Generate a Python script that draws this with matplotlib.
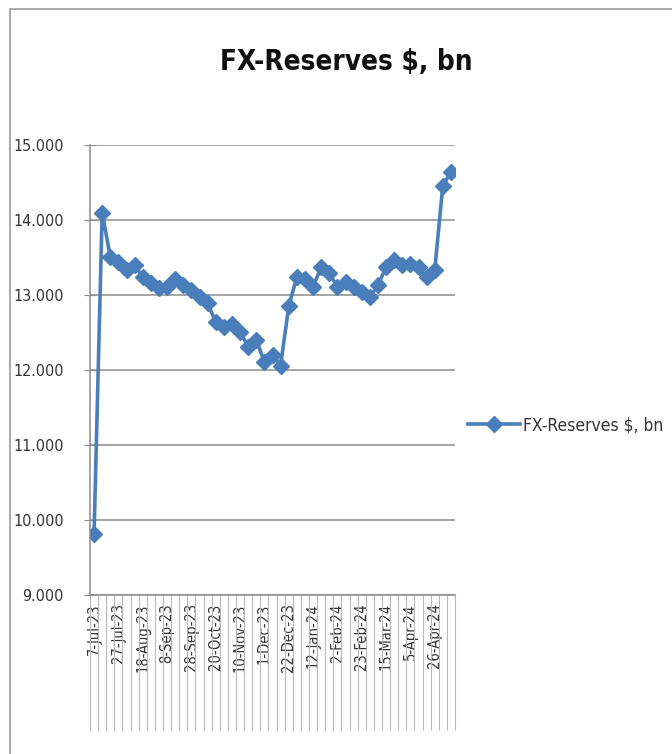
import matplotlib.pyplot as plt
from matplotlib.patches import Rectangle

# weekly observations, Jul-23 .. May-24
dates = ['7-Jul-23', '14-Jul-23', '21-Jul-23', '27-Jul-23', '4-Aug-23', '11-Aug-23',
         '18-Aug-23', '25-Aug-23', '1-Sep-23', '8-Sep-23', '15-Sep-23', '22-Sep-23',
         '28-Sep-23', '6-Oct-23', '13-Oct-23', '20-Oct-23', '27-Oct-23', '3-Nov-23',
         '10-Nov-23', '17-Nov-23', '24-Nov-23', '1-Dec-23', '8-Dec-23', '15-Dec-23',
         '22-Dec-23', '29-Dec-23', '5-Jan-24', '12-Jan-24', '19-Jan-24', '26-Jan-24',
         '2-Feb-24', '9-Feb-24', '16-Feb-24', '23-Feb-24', '1-Mar-24', '8-Mar-24',
         '15-Mar-24', '22-Mar-24', '29-Mar-24', '5-Apr-24', '12-Apr-24', '19-Apr-24',
         '26-Apr-24', '3-May-24', '10-May-24']
reserves = [9.81, 14.10, 13.51, 13.44, 13.33, 13.40, 13.24, 13.16, 13.09, 13.11,
            13.21, 13.14, 13.07, 12.98, 12.89, 12.64, 12.58, 12.62, 12.51, 12.31,
            12.40, 12.11, 12.20, 12.06, 12.85, 13.24, 13.22, 13.11, 13.37, 13.29,
            13.11, 13.17, 13.11, 13.04, 12.97, 13.13, 13.37, 13.46, 13.40, 13.42,
            13.37, 13.24, 13.33, 14.46, 14.64]
y_ticks = [9, 10, 11, 12, 13, 14, 15]
label_step = 3

plt.rcParams['font.family'] = ['DejaVu Sans']
plt.rcParams['font.stretch'] = 'condensed'

fig = plt.figure(figsize=(6.72, 7.54), dpi=100)
fig.patches.append(Rectangle((10 / 672, -0.01), 1.0, 1 - 9 / 754 + 0.01,
                             transform=fig.transFigure, fill=False,
                             edgecolor='#9a9a9a', linewidth=1.2))

ax = fig.add_axes([90 / 672, 1 - 595 / 754, 365 / 672, 450 / 754])
x = list(range(len(dates)))
line, = ax.plot(x, reserves, color='#4a7ebb', linewidth=2.6, marker='D',
                markersize=8, markeredgecolor='#4a7ebb', label='FX-Reserves $, bn')

ax.set_xlim(-0.5, len(dates) - 0.5)
ax.set_ylim(9, 15)
ax.set_yticks(y_ticks)
ax.set_yticklabels([f'{v:.3f}' for v in y_ticks], fontsize=11.5, color='#333333')
ax.yaxis.grid(True, color='#8c8c8c', linewidth=1.1)
ax.set_axisbelow(True)
ax.tick_params(axis='y', direction='inout', length=9, color='#8c8c8c', pad=14.5)

ax.set_xticks(x[::label_step])
ax.set_xticklabels(dates[::label_step], rotation=90, fontsize=10.5, color='#333333')
ax.set_xticks([i - 0.5 for i in x] + [len(dates) - 0.5], minor=True)
ax.tick_params(axis='x', which='major', length=0, pad=6)
ax.tick_params(axis='x', which='minor', direction='out', length=97,
               color='#b8b8b8', width=0.8)

for side in ['top', 'right']:
    ax.spines[side].set_visible(False)
for side in ['left', 'bottom']:
    ax.spines[side].set_color('#8c8c8c')
    ax.spines[side].set_linewidth(1.1)

fig.text(346 / 672, 1 - 62 / 754, 'FX-Reserves $, bn', ha='center', va='center',
         fontsize=20, fontweight='bold', color='#111111')

fig.legend(handles=[line], loc='center left', bbox_to_anchor=(452 / 672, 1 - 425 / 754),
           frameon=False, fontsize=12.5, handlelength=3.0, handletextpad=0.2,
           labelcolor='#333333')

fig.savefig('out.png', dpi=100)
